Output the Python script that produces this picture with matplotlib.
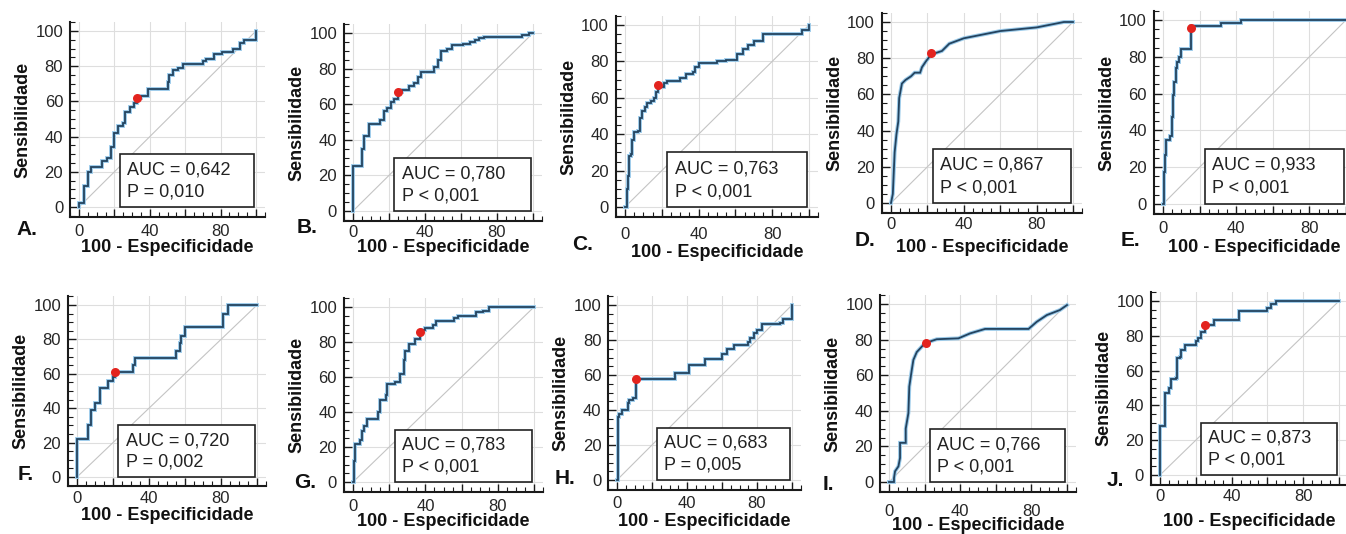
import matplotlib
matplotlib.use('Agg')
import matplotlib.pyplot as plt
from matplotlib.patches import Rectangle
from matplotlib.ticker import MultipleLocator, FuncFormatter

plt.rcParams['font.family'] = ['Liberation Sans', 'DejaVu Sans']

# ---------------- data ----------------
A_fpr = [0, 0, 3, 5, 7, 13, 16, 18, 20, 22, 25, 26, 29, 31, 33, 35, 39, 50, 51, 53, 56, 59, 70, 72, 76, 81, 87, 91, 93, 100]
A_tpr = [0, 2, 12, 20, 23, 26, 28, 34, 42, 46, 48, 54, 57, 59, 62, 63, 67, 71, 75, 78, 79, 81, 83, 84, 87, 88, 90, 93, 95, 100]
A_cut = (33, 62)

B_fpr = [0, 0, 5, 6, 9, 15, 17, 19, 21, 23, 25, 27, 31, 34, 36, 38, 45, 47, 49, 52, 55, 61, 65, 68, 70, 73, 94, 98, 100]
B_tpr = [0, 25, 35, 42, 49, 51, 56, 58, 61, 63, 67, 68, 70, 72, 75, 78, 81, 85, 90, 91, 93, 94, 95, 96, 97, 98, 99, 100, 100]
B_cut = (25, 67)

C_fpr = [0, 1, 1.5, 2, 3, 4, 5, 7, 8, 9, 11, 12, 14, 16, 17, 18, 21, 23, 30, 33, 37, 38, 40, 50, 55, 61, 64, 67, 70, 75, 96, 100]
C_tpr = [0, 10, 17, 28, 29, 37, 41, 42, 49, 53, 55, 57, 58, 60, 63, 66, 68, 69, 71, 73, 74, 77, 79, 80, 81, 84, 87, 89, 91, 95, 97, 100]
C_cut = (18, 67)

D_fpr = [0, 1, 2, 3, 4, 4.5, 6, 8, 11, 13, 16, 17, 19, 22, 25, 28, 32, 40, 50, 60, 70, 80, 90, 95, 100]
D_tpr = [0, 5, 28, 38, 45, 58, 66, 68, 70, 72, 72, 75, 78, 82, 83, 84, 88, 91, 93, 95, 96, 97, 99, 100, 100]
D_cut = (22, 83)

E_fpr = [0, 0.5, 1.3, 1.8, 4, 4.9, 5.5, 6, 6.9, 7.8, 8.7, 10, 15.5, 31.8, 42.7, 100]
E_tpr = [0, 17.6, 26.6, 34.8, 37, 47.5, 59, 66.5, 73.7, 77, 80, 84, 97, 98.2, 100, 100]
E_cut = (15.5, 95.5)

F_fpr = [0, 0, 6, 8, 10, 13, 17, 20, 21, 31, 32, 55, 57, 58, 60, 81, 84, 100]
F_tpr = [0, 22, 30, 39, 43, 52, 56, 58, 61, 65, 69, 73, 78, 82, 87, 95, 100, 100]
F_cut = (21, 61)

G_fpr = [0, 0.5, 1, 4, 5, 6, 8, 14, 15, 18, 19, 23, 26, 28, 29, 31, 34, 37, 38, 40, 44, 46, 56, 58, 68, 72, 75, 100]
G_tpr = [0, 12, 22, 24, 29, 32, 36, 40, 47, 50, 56, 57, 62, 70, 75, 79, 82, 86, 87, 88, 90, 92, 94, 95, 97, 98, 100, 100]
G_cut = (37, 86)

H_fpr = [0, 0.3, 1, 3, 6, 7, 9, 11, 33, 41, 50, 60, 63, 67, 75, 76, 78, 80, 83, 93, 95, 100]
H_tpr = [0, 36, 38, 40, 44, 46, 47, 58, 61, 66, 69, 72, 75, 77, 79, 81, 84, 86, 89, 90, 92, 100]
H_cut = (11, 58)

I_fpr = [0, 2.8, 2.8, 3.4, 5.3, 6.2, 6.2, 9.4, 9.4, 10.9, 11.4, 12.8, 13.7, 15.6, 19.3, 21.2, 26.8, 39, 45.6, 54, 78.4, 83, 88.7, 96, 100]
I_tpr = [0, 0, 2.2, 6, 8.8, 13.5, 22, 22, 30, 38.7, 53.6, 63, 68.6, 73, 77, 78.3, 80.2, 80.7, 83.5, 86, 86, 90, 93.8, 96.6, 99.4]
I_cut = (21, 78)

J_fpr = [0, 0, 3, 5, 6, 9, 9.5, 11, 12, 14, 20, 21, 23, 25, 30, 44, 60, 62, 65, 100]
J_tpr = [0, 28, 47, 50, 55, 56, 67, 68, 72, 75, 77, 79, 82, 86, 89, 94, 96, 98, 100, 100]
J_cut = (25, 86)

letters = ['A.', 'B.', 'C.', 'D.', 'E.', 'F.', 'G.', 'H.', 'I.', 'J.']
auc_labels = ['AUC = 0,642', 'AUC = 0,780', 'AUC = 0,763', 'AUC = 0,867', 'AUC = 0,933',
              'AUC = 0,720', 'AUC = 0,783', 'AUC = 0,683', 'AUC = 0,766', 'AUC = 0,873']
p_labels = ['P = 0,010', 'P < 0,001', 'P < 0,001', 'P < 0,001', 'P < 0,001',
            'P = 0,002', 'P < 0,001', 'P = 0,005', 'P < 0,001', 'P < 0,001']
xlabel_text = '100 - Especificidade'
ylabel_text = 'Sensibilidade'
curves = [(A_fpr, A_tpr, A_cut), (B_fpr, B_tpr, B_cut), (C_fpr, C_tpr, C_cut),
          (D_fpr, D_tpr, D_cut), (E_fpr, E_tpr, E_cut), (F_fpr, F_tpr, F_cut),
          (G_fpr, G_tpr, G_cut), (H_fpr, H_tpr, H_cut), (I_fpr, I_tpr, I_cut),
          (J_fpr, J_tpr, J_cut)]

# ---------------- layout (pixels in the 1346x534 image) ----------------
W, H = 1346, 534
# x pixel of 0, x pixel of 100, y pixel of 0, y pixel of 100
geoms = [(79, 256, 207, 31), (353, 533, 211, 33), (625, 809, 207, 25),
         (891, 1073, 203, 22), (1163, 1346, 204, 20),
         (77, 257, 477, 305), (353, 534, 482, 307), (617, 792, 480, 305),
         (889, 1067, 482, 304), (1160, 1339, 475, 301)]
letter_pos = [(27, 230), (307, 228), (583, 245), (865, 240), (1130, 240),
              (26, 474), (305, 482), (565, 479), (828, 484), (1115, 481)]
xlabel_y = [248, 247, 253, 247, 247, 516, 522, 521, 526, 522]
# gap (px) between bottom spine and x tick labels
xtick_gap = [7, 4, 10, 4, 7, 5, 7, 6, 12, 4]
drawstyles = ['steps-post', 'steps-post', 'steps-post', 'default', 'steps-post',
              'steps-post', 'steps-post', 'steps-post', 'default', 'steps-post']
XMIN, XMAX, YMIN, YMAX = -5, 105, -5.5, 105

fig = plt.figure(figsize=(W / 100, H / 100), dpi=100)
fig.patch.set_facecolor('white')

LINE = '#23435f'
HALO = '#9ccbea'

for i, (fpr, tpr, cut) in enumerate(curves):
    x0, x100, y0, y100 = geoms[i]
    sx = (x100 - x0) / 100.0
    sy = (y0 - y100) / 100.0
    lpx = x0 + XMIN * sx
    rpx = x0 + XMAX * sx
    bpx = y0 - YMIN * sy
    tpx = y0 - YMAX * sy
    ax = fig.add_axes([lpx / W, 1 - bpx / H, (rpx - lpx) / W, (bpx - tpx) / H])
    ax.set_xlim(XMIN, XMAX)
    ax.set_ylim(YMIN, YMAX)
    ax.set_facecolor('none')
    for s in ['top', 'right']:
        ax.spines[s].set_visible(False)
    for s in ['left', 'bottom']:
        ax.spines[s].set_linewidth(1.5)
        ax.spines[s].set_color('#1a1a1a')

    ax.xaxis.set_major_locator(MultipleLocator(20))
    ax.yaxis.set_major_locator(MultipleLocator(20))
    ax.xaxis.set_minor_locator(MultipleLocator(5))
    ax.yaxis.set_minor_locator(MultipleLocator(5))
    ax.xaxis.set_major_formatter(FuncFormatter(
        lambda v, p: f'{v:.0f}' if (round(v) % 40 == 0 and 0 <= v <= 80) else ''))
    ax.yaxis.set_major_formatter(FuncFormatter(lambda v, p: f'{v:.0f}'))
    ax.tick_params(which='major', direction='in', length=6, width=1.0,
                   color='#1a1a1a', labelsize=12, labelcolor='#262626')
    ax.tick_params(axis='y', which='major', pad=5)
    ax.tick_params(axis='x', which='major', pad=xtick_gap[i] * 0.72)
    ax.tick_params(which='minor', direction='in', length=3.5, width=0.8, color='#1a1a1a')
    ax.grid(True, which='major', color='#dedede', linewidth=0.8, zorder=0)
    ax.set_axisbelow(True)

    ax.plot([0, 100], [0, 100], color='#c4c4c4', linewidth=0.8, zorder=1.5)

    ax.plot(fpr, tpr, drawstyle=drawstyles[i], color=HALO, linewidth=2.8,
            zorder=4, solid_joinstyle='miter')
    ax.plot(fpr, tpr, drawstyle=drawstyles[i], color=LINE, linewidth=1.3,
            zorder=4.5, solid_joinstyle='miter')
    ax.plot([cut[0]], [cut[1]], 'o', color='#e3241f', markersize=6.5,
            markeredgewidth=0, zorder=6)

    ax.add_patch(Rectangle((23, 0), 76, 30, facecolor='white', edgecolor='#222222',
                           linewidth=1.2, zorder=3))
    ax.text(27, 21, auc_labels[i], fontsize=13, va='center', ha='left',
            color='#222222', zorder=3.5)
    ax.text(27, 8.5, p_labels[i], fontsize=13, va='center', ha='left',
            color='#222222', zorder=3.5)

    # axis labels
    fig.text(((lpx + rpx) / 2) / W, 1 - xlabel_y[i] / H, xlabel_text,
             fontsize=13, fontweight='bold', ha='center', va='center', color='#111111')
    fig.text((lpx - 47) / W, 1 - ((tpx + bpx) / 2) / H, ylabel_text,
             fontsize=13, fontweight='bold', ha='center', va='center',
             rotation=90, color='#111111')
    lx, ly = letter_pos[i]
    fig.text(lx / W, 1 - ly / H, letters[i], fontsize=15, fontweight='bold',
             ha='center', va='center', color='#111111')

fig.savefig('out.png', dpi=100, facecolor='white')
